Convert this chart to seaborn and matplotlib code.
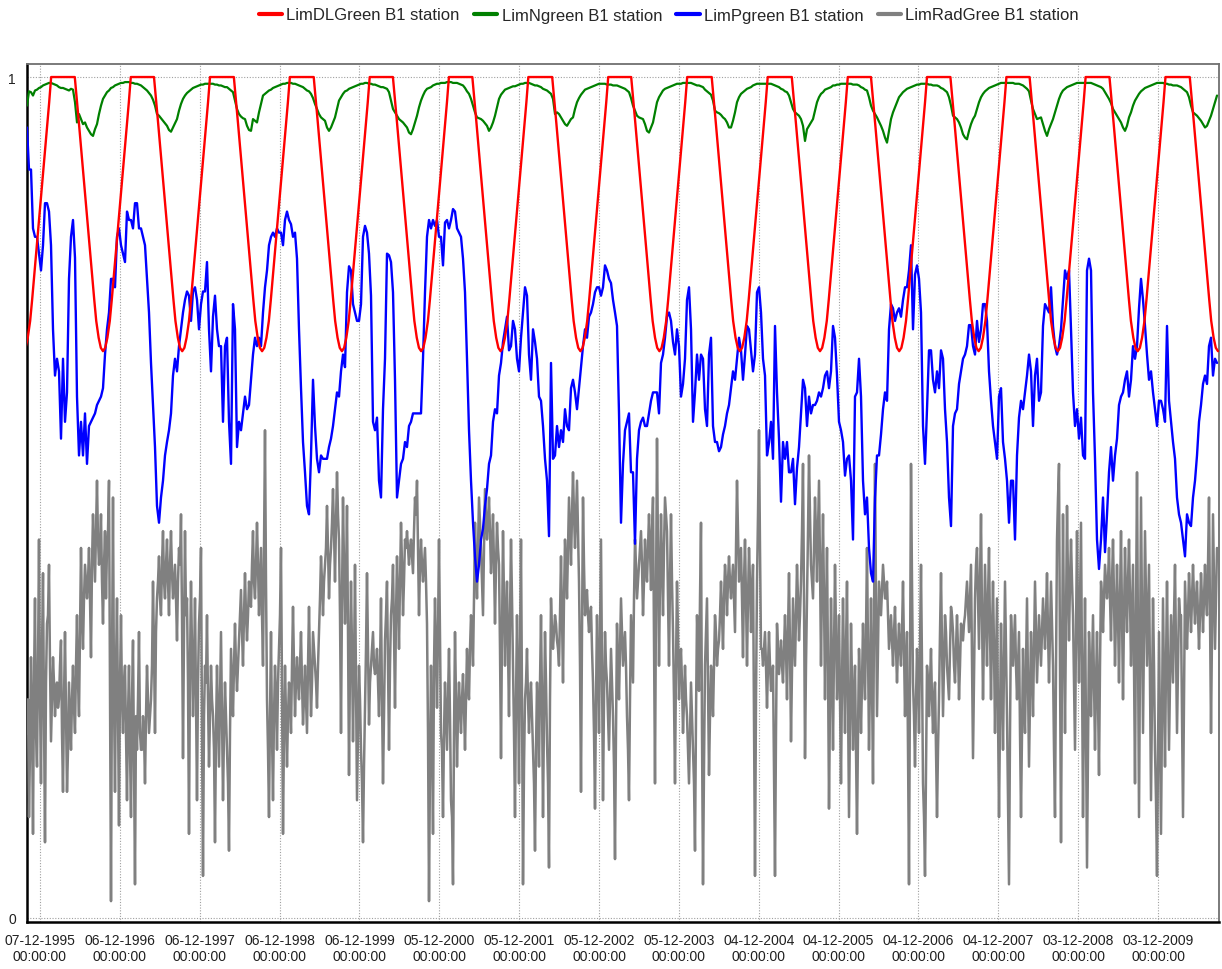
import numpy as np
import pandas as pd
import matplotlib
matplotlib.use("Agg")
import matplotlib.pyplot as plt
import matplotlib.dates as mdates
from matplotlib.ticker import FixedLocator
import seaborn as sns

# ---------------- data ----------------
series_names = ["LimDLGreen B1 station", "LimNgreen B1 station",
                "LimPgreen B1 station", "LimRadGree B1 station"]
series_colors = ["#FF0000", "#008000", "#0000FF", "#808080"]

axis_origin = "1995-12-07"          # first labelled tick
tick_step_days = 365
n_ticks = 15
view_start_day = -59.4
view_end_day = 5388.6

sample_start_day = -59.4            # first sample (days from origin)
sample_step_days = 9.141            # spacing of the read-off samples

# LimNgreen (thousandths)
green_milli = [
    966, 983, 982, 978, 984, 985, 987, 988, 990, 991,
    992, 993, 993, 992, 991, 990, 988, 987, 987, 986,
    985, 984, 986, 985, 970, 946, 956, 950, 944, 946,
    940, 936, 932, 930, 938, 944, 956, 966, 974, 978,
    982, 984, 987, 988, 990, 991, 992, 993, 993, 994,
    994, 994, 993, 993, 992, 992, 991, 990, 988, 986,
    984, 981, 978, 973, 966, 956, 954, 951, 948, 945,
    942, 937, 935, 940, 945, 950, 960, 968, 974, 978,
    981, 983, 985, 987, 988, 989, 990, 991, 991, 992,
    992, 992, 992, 992, 991, 991, 990, 990, 989, 988,
    988, 986, 984, 982, 972, 962, 956, 953, 951, 950,
    942, 937, 936, 950, 948, 946, 958, 968, 978, 980,
    982, 984, 985, 987, 988, 989, 990, 991, 992, 992,
    993, 993, 993, 992, 992, 991, 990, 989, 988, 986,
    984, 983, 980, 975, 968, 962, 956, 952, 950, 948,
    940, 936, 940, 946, 952, 962, 972, 976, 980, 983,
    984, 986, 987, 988, 989, 990, 991, 992, 992, 993,
    993, 992, 992, 991, 991, 990, 989, 988, 988, 987,
    986, 982, 972, 962, 958, 954, 950, 948, 946, 943,
    940, 934, 932, 938, 946, 954, 964, 972, 978, 983,
    986, 987, 988, 990, 991, 992, 992, 993, 993, 993,
    994, 994, 994, 993, 993, 993, 992, 991, 990, 987,
    983, 980, 974, 966, 958, 952, 951, 950, 948, 945,
    942, 936, 940, 946, 954, 964, 974, 979, 982, 985,
    986, 987, 988, 989, 989, 990, 991, 992, 992, 993,
    993, 993, 992, 991, 990, 990, 989, 988, 986, 985,
    984, 982, 980, 974, 956, 958, 956, 952, 948, 944,
    942, 946, 950, 952, 962, 970, 975, 979, 982, 985,
    986, 987, 988, 989, 990, 991, 992, 992, 992, 992,
    991, 991, 991, 990, 990, 990, 989, 988, 987, 986,
    984, 982, 975, 966, 960, 954, 952, 951, 950, 944,
    936, 934, 940, 946, 958, 970, 976, 980, 984, 986,
    987, 988, 989, 990, 991, 992, 992, 992, 993, 993,
    993, 993, 993, 992, 991, 990, 990, 989, 988, 985,
    983, 981, 979, 972, 960, 958, 957, 955, 952, 950,
    946, 940, 940, 948, 958, 970, 976, 980, 982, 984,
    986, 987, 988, 990, 991, 992, 992, 992, 992, 992,
    992, 992, 992, 991, 990, 989, 988, 986, 985, 983,
    982, 978, 970, 962, 958, 956, 954, 950, 942, 924,
    938, 942, 946, 950, 960, 970, 976, 980, 982, 985,
    986, 987, 988, 990, 990, 991, 991, 992, 992, 992,
    992, 992, 992, 991, 991, 991, 990, 988, 987, 985,
    984, 976, 966, 960, 956, 952, 947, 942, 936, 928,
    922, 936, 950, 958, 964, 970, 976, 979, 982, 984,
    986, 987, 988, 989, 990, 991, 991, 992, 992, 992,
    992, 991, 991, 990, 990, 990, 989, 987, 986, 984,
    982, 976, 966, 954, 952, 950, 946, 940, 932, 928,
    926, 936, 944, 950, 954, 962, 970, 976, 980, 983,
    985, 987, 988, 989, 990, 991, 992, 993, 993, 993,
    993, 993, 993, 993, 992, 992, 992, 991, 990, 988,
    986, 983, 972, 962, 956, 950, 951, 952, 944, 936,
    930, 938, 944, 950, 958, 966, 974, 980, 984, 986,
    988, 989, 990, 991, 992, 993, 993, 993, 993, 993,
    993, 993, 993, 992, 991, 990, 989, 988, 986, 982,
    978, 974, 969, 962, 958, 954, 950, 946, 940, 936,
    942, 952, 958, 966, 972, 976, 980, 983, 985, 987,
    988, 989, 990, 991, 992, 993, 993, 993, 993, 992,
    992, 991, 991, 990, 990, 990, 989, 988, 986, 984,
    982, 976, 966, 958, 956, 954, 951, 948, 944, 940,
    942, 948, 954, 962, 970, 978,
]

# LimPgreen
blue_vals = [
    0.94, 0.89, 0.89, 0.82, 0.81, 0.81, 0.79, 0.77, 0.80, 0.85,
    0.85, 0.84, 0.80, 0.70, 0.645, 0.665, 0.65, 0.57, 0.665, 0.59,
    0.625, 0.76, 0.81, 0.83, 0.785, 0.62, 0.55, 0.59, 0.55, 0.60,
    0.54, 0.585, 0.59, 0.595, 0.60, 0.61, 0.615, 0.62, 0.63, 0.67,
    0.70, 0.72, 0.76, 0.76, 0.75, 0.81, 0.82, 0.80, 0.79, 0.78,
    0.84, 0.83, 0.83, 0.82, 0.85, 0.85, 0.82, 0.82, 0.81, 0.80,
    0.76, 0.72, 0.66, 0.61, 0.56, 0.49, 0.47, 0.50, 0.52, 0.55,
    0.566, 0.58, 0.60, 0.645, 0.665, 0.65, 0.68, 0.70, 0.72, 0.735,
    0.745, 0.74, 0.71, 0.745, 0.75, 0.735, 0.70, 0.73, 0.745, 0.745,
    0.78, 0.70, 0.65, 0.715, 0.74, 0.70, 0.68, 0.68, 0.59, 0.68,
    0.69, 0.59, 0.54, 0.73, 0.70, 0.56, 0.59, 0.58, 0.60, 0.62,
    0.605, 0.61, 0.64, 0.67, 0.69, 0.68, 0.69, 0.68, 0.72, 0.75,
    0.77, 0.80, 0.81, 0.815, 0.81, 0.82, 0.815, 0.815, 0.80, 0.83,
    0.84, 0.83, 0.825, 0.81, 0.815, 0.784, 0.70, 0.63, 0.566, 0.53,
    0.49, 0.48, 0.55, 0.64, 0.585, 0.546, 0.53, 0.55, 0.546, 0.546,
    0.546, 0.56, 0.57, 0.585, 0.605, 0.625, 0.62, 0.65, 0.67, 0.655,
    0.744, 0.775, 0.77, 0.73, 0.72, 0.71, 0.71, 0.73, 0.81, 0.823,
    0.815, 0.79, 0.74, 0.59, 0.58, 0.595, 0.52, 0.50, 0.605, 0.665,
    0.79, 0.788, 0.78, 0.744, 0.64, 0.50, 0.52, 0.54, 0.546, 0.566,
    0.56, 0.585, 0.59, 0.60, 0.60, 0.60, 0.60, 0.60, 0.665, 0.744,
    0.81, 0.83, 0.82, 0.83, 0.823, 0.83, 0.81, 0.81, 0.776, 0.827,
    0.83, 0.82, 0.83, 0.843, 0.84, 0.82, 0.815, 0.81, 0.784, 0.744,
    0.665, 0.58, 0.52, 0.47, 0.43, 0.40, 0.42, 0.45, 0.463, 0.49,
    0.51, 0.54, 0.55, 0.59, 0.605, 0.60, 0.645, 0.66, 0.685, 0.70,
    0.715, 0.675, 0.68, 0.71, 0.70, 0.665, 0.65, 0.69, 0.72, 0.75,
    0.74, 0.67, 0.64, 0.70, 0.685, 0.665, 0.62, 0.615, 0.585, 0.546,
    0.52, 0.454, 0.66, 0.546, 0.55, 0.585, 0.56, 0.58, 0.566, 0.605,
    0.585, 0.58, 0.63, 0.64, 0.625, 0.605, 0.63, 0.655, 0.68, 0.70,
    0.69, 0.715, 0.72, 0.73, 0.744, 0.75, 0.75, 0.74, 0.75, 0.776,
    0.77, 0.76, 0.755, 0.735, 0.72, 0.704, 0.60, 0.47, 0.54, 0.58,
    0.59, 0.60, 0.53, 0.53, 0.445, 0.546, 0.58, 0.59, 0.595, 0.585,
    0.585, 0.60, 0.615, 0.625, 0.625, 0.625, 0.60, 0.66, 0.67, 0.69,
    0.715, 0.72, 0.71, 0.685, 0.67, 0.70, 0.68, 0.62, 0.635, 0.665,
    0.735, 0.75, 0.70, 0.59, 0.625, 0.67, 0.64, 0.67, 0.665, 0.605,
    0.585, 0.67, 0.69, 0.585, 0.566, 0.566, 0.555, 0.56, 0.575, 0.585,
    0.60, 0.61, 0.63, 0.65, 0.64, 0.665, 0.69, 0.675, 0.64, 0.67,
    0.704, 0.70, 0.675, 0.65, 0.67, 0.744, 0.75, 0.72, 0.665, 0.645,
    0.55, 0.565, 0.59, 0.546, 0.704, 0.625, 0.57, 0.495, 0.566, 0.546,
    0.566, 0.53, 0.53, 0.546, 0.492, 0.535, 0.56, 0.60, 0.64, 0.63,
    0.585, 0.62, 0.60, 0.61, 0.61, 0.615, 0.625, 0.62, 0.63, 0.645,
    0.65, 0.63, 0.65, 0.704, 0.69, 0.645, 0.59, 0.58, 0.566, 0.526,
    0.546, 0.55, 0.52, 0.45, 0.62, 0.625, 0.665, 0.62, 0.52, 0.48,
    0.50, 0.44, 0.41, 0.40, 0.50, 0.55, 0.55, 0.575, 0.605, 0.625,
    0.615, 0.70, 0.73, 0.725, 0.71, 0.72, 0.725, 0.715, 0.735, 0.75,
    0.75, 0.77, 0.80, 0.70, 0.765, 0.776, 0.76, 0.72, 0.585, 0.54,
    0.605, 0.675, 0.675, 0.64, 0.625, 0.65, 0.63, 0.675, 0.665, 0.605,
    0.566, 0.50, 0.466, 0.585, 0.60, 0.605, 0.635, 0.65, 0.665, 0.67,
    0.68, 0.705, 0.705, 0.68, 0.67, 0.71, 0.685, 0.70, 0.73, 0.73,
    0.71, 0.65, 0.615, 0.585, 0.566, 0.546, 0.62, 0.63, 0.566, 0.546,
    0.52, 0.47, 0.52, 0.52, 0.45, 0.55, 0.595, 0.615, 0.605, 0.625,
    0.645, 0.67, 0.65, 0.585, 0.645, 0.665, 0.615, 0.625, 0.704, 0.73,
    0.725, 0.72, 0.75, 0.704, 0.68, 0.67, 0.68, 0.70, 0.735, 0.77,
    0.76, 0.77, 0.70, 0.625, 0.585, 0.605, 0.57, 0.595, 0.55, 0.546,
    0.77, 0.784, 0.77, 0.625, 0.546, 0.45, 0.415, 0.45, 0.50, 0.435,
    0.48, 0.53, 0.56, 0.52, 0.55, 0.57, 0.61, 0.62, 0.625, 0.64,
    0.65, 0.62, 0.64, 0.68, 0.665, 0.68, 0.725, 0.76, 0.735, 0.704,
    0.67, 0.64, 0.65, 0.625, 0.605, 0.585, 0.615, 0.615, 0.605, 0.59,
    0.704, 0.615, 0.59, 0.566, 0.546, 0.50, 0.48, 0.47, 0.45, 0.43,
    0.48, 0.47, 0.466, 0.50, 0.52, 0.55, 0.59, 0.61, 0.635, 0.645,
    0.635, 0.68, 0.69, 0.645, 0.665, 0.66,
]

# LimRadGree (hundredths), read at the main sample dates ...
grey_pct = [
    22, 12, 31, 10, 38, 18, 45, 16, 41, 9,
    35, 42, 21, 31, 24, 28, 26, 33, 15, 34,
    15, 28, 20, 30, 22, 36, 24, 44, 32, 42,
    38, 44, 31, 48, 40, 52, 42, 48, 35, 46,
    44, 52, 2, 50, 15, 38, 11, 36, 22, 30,
    14, 30, 12, 33, 4, 20, 34, 20, 24, 16,
    30, 22, 26, 40, 22, 38, 43, 36, 46, 38,
    45, 36, 46, 38, 42, 33, 44, 48, 19, 46,
    38, 10, 40, 24, 38, 14, 35, 44, 5, 30,
    36, 18, 30, 24, 9, 30, 18, 34, 14, 28,
    20, 8, 32, 24, 35, 27, 33, 39, 30, 41,
    33, 40, 37, 46, 38, 47, 36, 44, 30, 58,
    26, 12, 34, 14, 30, 20, 32, 44, 10, 30,
    18, 28, 22, 37, 24, 31, 26, 34, 23, 30,
    22, 37, 24, 34, 30, 25, 34, 43, 36, 42,
    49, 38, 44, 51, 40, 53, 45, 22, 50, 35,
    49, 17, 40, 21, 42, 14, 30, 20, 9, 25,
    41, 23, 30, 34, 29, 32, 24, 38, 16, 33,
    40, 20, 36, 42, 25, 43, 32, 47, 36, 45,
    46, 42, 45, 41, 50, 52, 36, 45, 40, 44,
    35, 2, 30, 10, 38, 25, 45, 22, 12, 28,
    20, 32, 14, 4, 34, 18, 28, 22, 29, 20,
    32, 26, 36, 30, 47, 38, 50, 44, 36, 51,
    45, 50, 41, 48, 35, 47, 42, 19, 46, 30,
    40, 24, 45, 30, 12, 36, 16, 45, 4, 26,
    32, 22, 28, 20, 8, 28, 18, 36, 12, 34,
    21, 6, 38, 32, 36, 33, 30, 43, 28, 45,
    38, 50, 42, 53, 44, 52, 40, 15, 50, 36,
    39, 34, 37, 28, 13, 36, 22, 45, 14, 34,
    28, 20, 32, 24, 7, 35, 26, 38, 30, 34,
    24, 14, 36, 28, 45, 38, 42, 46, 36, 45,
    40, 48, 39, 50, 16, 57, 30, 48, 36, 50,
    46, 30, 48, 34, 16, 40, 26, 32, 22, 30,
    24, 16, 28, 20, 8, 36, 27, 47, 4, 30,
    38, 17, 30, 24, 36, 30, 33, 40, 32, 42,
    36, 43, 38, 42, 34, 52, 40, 44, 31, 45,
    30, 44, 34, 42, 5, 40, 58, 32, 30, 34,
    25, 34, 27, 30, 5, 35, 29, 33, 28, 36,
    26, 41, 21, 38, 30, 42, 33, 40, 54, 19,
    38, 55, 42, 38, 50, 40, 52, 30, 48, 26,
    44, 13, 38, 20, 42, 26, 36, 16, 38, 22,
    40, 12, 35, 20, 30, 10, 32, 22, 35, 26,
    44, 20, 38, 16, 54, 24, 40, 36, 42, 38,
    40, 32, 36, 30, 37, 28, 35, 30, 40, 24,
    34, 4, 54, 28, 18, 32, 22, 42, 16, 5,
    30, 24, 32, 22, 28, 12, 26, 41, 24, 36,
    30, 26, 37, 34, 28, 36, 26, 35, 33, 36,
    40, 34, 42, 19, 38, 44, 32, 48, 26, 42,
    30, 44, 26, 40, 22, 38, 12, 35, 20, 40,
    24, 4, 36, 30, 36, 26, 34, 12, 32, 22,
    38, 18, 34, 24, 40, 28, 36, 30, 38, 32,
    41, 28, 40, 30, 12, 45, 54, 9, 48, 22,
    49, 33, 45, 36, 20, 46, 28, 47, 12, 38,
    6, 34, 24, 36, 20, 34, 17, 40, 34, 42,
    38, 44, 33, 45, 30, 42, 28, 46, 26, 44,
    34, 45, 30, 42, 16, 53, 12, 50, 22, 46,
    30, 42, 14, 38, 20, 5, 34, 10, 38, 18,
    40, 20, 36, 28, 42, 22, 38, 36, 12, 40,
    32, 41, 34, 42, 35, 40, 32, 41, 34, 42,
    36, 50, 22, 48, 32, 44,
]
# ... and halfway between those dates
grey_mid_pct = [
    26, 20, 24, 28, 22, 30, 26, 32, 24, 28,
    36, 30, 26, 28, 27, 25, 30, 22, 26, 24,
    20, 24, 26, 25, 30, 28, 34, 36, 38, 40,
    40, 38, 42, 44, 46, 45, 44, 40, 42, 38,
    46, 28, 30, 26, 30, 24, 28, 26, 28, 22,
    24, 20, 26, 18, 24, 26, 22, 20, 22, 24,
    26, 24, 30, 32, 34, 40, 38, 42, 40, 42,
    40, 42, 41, 40, 38, 40, 42, 36, 34, 36,
    28, 30, 32, 30, 26, 28, 38, 22, 24, 28,
    26, 24, 26, 20, 22, 24, 26, 24, 22, 24,
    16, 22, 28, 30, 30, 30, 36, 34, 36, 36,
    36, 38, 42, 40, 42, 42, 40, 36, 44, 40,
    20, 24, 22, 24, 26, 28, 36, 26, 22, 24,
    24, 26, 30, 30, 28, 28, 30, 28, 26, 26,
    30, 30, 28, 32, 28, 30, 38, 40, 40, 44,
    44, 42, 47, 46, 47, 48, 36, 38, 42, 40,
    34, 30, 32, 30, 28, 22, 26, 16, 18, 32,
    32, 28, 32, 30, 30, 28, 30, 26, 24, 36,
    30, 30, 38, 34, 36, 38, 40, 42, 40, 44,
    44, 44, 43, 46, 48, 44, 42, 42, 42, 40,
    22, 18, 22, 30, 32, 34, 34, 20, 22, 24,
    26, 24, 12, 22, 26, 24, 25, 26, 25, 26,
    28, 32, 34, 38, 42, 44, 47, 40, 44, 48,
    47, 46, 44, 42, 42, 44, 32, 34, 38, 36,
    32, 36, 38, 22, 26, 28, 32, 26, 18, 28,
    26, 26, 24, 16, 20, 24, 28, 26, 24, 28,
    16, 26, 34, 34, 35, 32, 36, 36, 38, 42,
    44, 46, 48, 48, 48, 46, 30, 34, 42, 38,
    36, 36, 32, 22, 26, 30, 34, 30, 26, 30,
    24, 26, 28, 18, 22, 30, 32, 34, 32, 30,
    20, 26, 32, 38, 42, 40, 44, 42, 40, 42,
    44, 44, 46, 32, 38, 44, 40, 42, 44, 48,
    38, 40, 40, 26, 30, 34, 30, 28, 26, 26,
    20, 22, 24, 16, 24, 32, 38, 22, 18, 34,
    28, 24, 28, 30, 34, 32, 36, 36, 38, 40,
    40, 40, 40, 38, 44, 46, 42, 38, 40, 38,
    38, 40, 38, 24, 26, 48, 44, 32, 32, 30,
    30, 30, 28, 18, 22, 32, 31, 30, 32, 32,
    34, 32, 30, 34, 36, 38, 36, 46, 38, 30,
    46, 48, 40, 44, 46, 46, 42, 40, 38, 36,
    30, 26, 30, 32, 34, 30, 26, 28, 30, 32,
    26, 24, 28, 26, 20, 22, 28, 28, 30, 34,
    32, 28, 28, 36, 38, 32, 38, 39, 40, 38,
    36, 34, 33, 34, 32, 32, 32, 34, 32, 30,
    20, 30, 40, 24, 26, 28, 32, 30, 12, 18,
    28, 28, 26, 26, 20, 20, 34, 32, 30, 34,
    28, 32, 36, 30, 32, 32, 30, 34, 35, 38,
    37, 38, 30, 28, 42, 38, 40, 36, 34, 36,
    38, 34, 34, 32, 30, 24, 24, 28, 30, 32,
    14, 22, 33, 33, 30, 30, 22, 22, 26, 30,
    28, 26, 30, 32, 34, 32, 33, 34, 35, 36,
    34, 34, 35, 20, 30, 50, 30, 30, 34, 36,
    40, 40, 40, 28, 34, 36, 38, 30, 26, 22,
    20, 30, 30, 28, 28, 26, 30, 38, 38, 40,
    40, 38, 40, 38, 36, 36, 38, 36, 36, 38,
    40, 38, 36, 30, 36, 32, 32, 36, 34, 38,
    36, 28, 26, 30, 14, 20, 22, 24, 28, 30,
    30, 28, 32, 36, 32, 30, 36, 24, 26, 36,
    36, 38, 38, 38, 38, 36, 36, 38, 38, 38,
    42, 36, 34, 40, 38,
]

# LimDLGreen: dates (days from origin) of the yearly minima, and the shape
# of one cycle read around a minimum (plateau at 1 between cycles)
red_min_day = [-76, 288, 650, 1015, 1380, 1742, 2105, 2470, 2831,
               3199, 3565, 3927, 4290, 4652, 5017, 5384]
red_profile_offset = [-129, -110, -90, -75, -62, -50, -40, -31, -20, -10, 0,
                      10, 20, 31, 40, 50, 62, 75, 90, 105, 118, 127]
red_profile_value = [1.0, 0.945, 0.885, 0.840, 0.800, 0.765, 0.735, 0.710,
                     0.690, 0.678, 0.674, 0.678, 0.690, 0.710, 0.735, 0.765,
                     0.800, 0.840, 0.885, 0.930, 0.970, 1.0]

# ---------------- build tables ----------------
origin = pd.Timestamp(axis_origin)


def sample_dates(n, step):
    days = sample_start_day + np.arange(n) * step
    return origin + pd.to_timedelta(days, unit="D")


df_green = pd.DataFrame({"date": sample_dates(len(green_milli), sample_step_days),
                         "value": np.array(green_milli) / 1000.0})
df_blue = pd.DataFrame({"date": sample_dates(len(blue_vals), sample_step_days),
                        "value": np.array(blue_vals)})

grey_all = []
for i, v in enumerate(grey_pct):
    grey_all.append(v)
    if i < len(grey_mid_pct):
        grey_all.append(grey_mid_pct[i])
df_grey = pd.DataFrame({"date": sample_dates(len(grey_all), sample_step_days / 2),
                        "value": np.array(grey_all) / 100.0})

red_days, red_vals = [], []
for m in red_min_day:
    for off, val in zip(red_profile_offset, red_profile_value):
        d = m + off
        if -90 <= d <= 5386:
            red_days.append(d)
            red_vals.append(val)
df_red = pd.DataFrame({"date": origin + pd.to_timedelta(np.array(red_days), unit="D"),
                       "value": red_vals})

# ---------------- plot ----------------
sns.set_style("white")
plt.rcParams["font.family"] = ["Liberation Sans", "DejaVu Sans"]

W, H = 1222, 970
fig = plt.figure(figsize=(W / 100, H / 100), dpi=100)
ax = fig.add_axes([27 / W, 1 - 923 / H, (1219 - 27) / W, (923 - 65) / H])

sns.lineplot(data=df_grey, x="date", y="value", color=series_colors[3], lw=1.8,
             estimator=None, ax=ax, label=series_names[3], zorder=3)
sns.lineplot(data=df_blue, x="date", y="value", color=series_colors[2], lw=1.7,
             estimator=None, ax=ax, label=series_names[2], zorder=4)
sns.lineplot(data=df_green, x="date", y="value", color=series_colors[1], lw=1.6,
             estimator=None, ax=ax, label=series_names[1], zorder=5)
sns.lineplot(data=df_red, x="date", y="value", color=series_colors[0], lw=1.7,
             estimator=None, ax=ax, label=series_names[0], zorder=6)

handles, labels = ax.get_legend_handles_labels()
if ax.get_legend() is not None:
    ax.get_legend().remove()
order = [labels.index(n) for n in series_names]
leg = fig.legend([handles[i] for i in order], [labels[i] for i in order],
                 loc="center", bbox_to_anchor=(669 / W, 1 - 16 / H), ncol=4,
                 frameon=False, fontsize=12, handlelength=1.4,
                 handletextpad=0.25, columnspacing=0.86, borderaxespad=0,
                 borderpad=0)
for ln in leg.get_lines():
    ln.set_linewidth(3)

# axes limits
ax.set_xlim(origin + pd.Timedelta(days=view_start_day),
            origin + pd.Timedelta(days=view_end_day))
ax.set_ylim(-0.0048, 1.0155)
ax.set_xlabel("")
ax.set_ylabel("")

# ticks
major_dates = [origin + pd.Timedelta(days=tick_step_days * k) for k in range(n_ticks)]
ax.xaxis.set_major_locator(FixedLocator(mdates.date2num(major_dates)))
ax.xaxis.set_major_formatter(mdates.DateFormatter("%d-%m-%Y\n%H:%M:%S"))
minor_dates = [origin + pd.Timedelta(days=tick_step_days / 4 * j)
               for j in range(-1, 4 * n_ticks + 2)]
ax.xaxis.set_minor_locator(FixedLocator(mdates.date2num(minor_dates)))
ax.set_yticks([0, 1])
ax.set_yticklabels(["0", "1"])
ax.set_yticks([0.25, 0.5, 0.75], minor=True)

ax.tick_params(axis="both", which="major", direction="out", length=5, width=1,
               color="#404040", labelsize=10, labelcolor="#202020", pad=3)
ax.tick_params(axis="both", which="minor", direction="out", length=3, width=1,
               color="#404040")
for t in ax.get_xticklabels():
    t.set_horizontalalignment("center")
    t.set_linespacing(1.15)

ax.grid(True, which="major", axis="both", color="#a0a0a0", lw=0.8,
        linestyle=(0, (1, 1.5)))
ax.set_axisbelow(True)

for side in ["left", "bottom"]:
    ax.spines[side].set_color("#000000")
    ax.spines[side].set_linewidth(1.8)
for side in ["top", "right"]:
    ax.spines[side].set_color("#707070")
    ax.spines[side].set_linewidth(1.3)

fig.savefig("out.png", dpi=100)
